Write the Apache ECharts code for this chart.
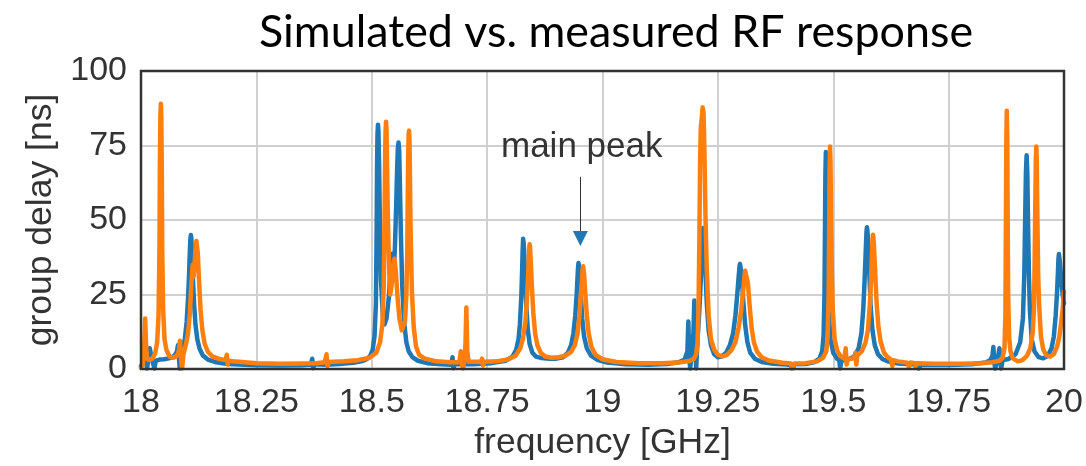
<!DOCTYPE html>
<html>
<head>
<meta charset="utf-8">
<script src="https://cdn.jsdelivr.net/npm/echarts@6/dist/echarts.min.js"></script>
<style>
  html, body { margin: 0; padding: 0; background: #ffffff; }
  #chart { width: 1086px; height: 466px; }
</style>
</head>
<body>
<div id="chart"></div>
<script>
// ---- data ----
const chartTitle = 'Simulated vs. measured RF response';
const xName = 'frequency [GHz]';
const yName = 'group delay [ns]';
const xRange = [18, 20, 0.25];
const yRange = [0, 100, 25];

// simulated response [frequency GHz, group delay ns]
const simulated = [
  [18.000, 1.0], [18.006, 2.2], [18.011, 2.6], [18.013, 0.2], [18.016, 3.0], [18.019, 7.0], [18.022, 4.5],
  [18.026, 2.0], [18.029, 0.2], [18.032, 2.8], [18.040, 3.2], [18.050, 3.3], [18.060, 3.6], [18.068, 4.0],
  [18.074, 4.8], [18.078, 6.0], [18.080, 8.0], [18.082, 4.0], [18.084, 0.2], [18.086, 2.5], [18.090, 6.5],
  [18.095, 10], [18.099, 16], [18.102, 24], [18.104, 31], [18.106, 40], [18.107, 43.5], [18.108, 45],
  [18.109, 44], [18.110, 41], [18.112, 32], [18.115, 22], [18.118, 15], [18.122, 10], [18.127, 6.8],
  [18.134, 4.6], [18.145, 3.2], [18.160, 2.4], [18.180, 1.9], [18.200, 1.6], [18.250, 1.3], [18.300, 1.2],
  [18.350, 1.3], [18.368, 1.5], [18.371, 3.5], [18.373, 0.3], [18.376, 1.6], [18.400, 1.5], [18.430, 1.7],
  [18.460, 2.1], [18.480, 2.7], [18.490, 3.4], [18.497, 4.5], [18.502, 6.5], [18.506, 11], [18.509, 22],
  [18.5105, 45], [18.5115, 68], [18.5125, 79], [18.5135, 82], [18.5145, 80], [18.516, 68], [18.518, 44],
  [18.520, 30], [18.524, 18], [18.5275, 15], [18.532, 17], [18.537, 24], [18.541, 34], [18.5435, 38.7],
  [18.5455, 33], [18.547, 31.5], [18.550, 40], [18.553, 55], [18.555, 67], [18.5565, 74], [18.558, 76],
  [18.5595, 73], [18.561, 62], [18.563, 46], [18.566, 28], [18.570, 16], [18.575, 9], [18.580, 6],
  [18.588, 4], [18.600, 2.8], [18.620, 2.0], [18.650, 1.6], [18.672, 1.5], [18.675, 4.0], [18.677, 0.3],
  [18.680, 1.6], [18.720, 1.6], [18.760, 2.0], [18.790, 2.8], [18.805, 4.2], [18.813, 6.5], [18.818, 10],
  [18.821, 15], [18.824, 24], [18.826, 34], [18.827, 40], [18.828, 43.7], [18.829, 42.5], [18.830, 40],
  [18.832, 32], [18.835, 21], [18.838, 13.5], [18.842, 8.5], [18.848, 5.5], [18.856, 4.2], [18.868, 3.7],
  [18.885, 3.5], [18.900, 3.5], [18.915, 4.0], [18.925, 5.5], [18.932, 8], [18.937, 12], [18.941, 18],
  [18.944, 25], [18.946, 31], [18.947, 34], [18.948, 35.6], [18.949, 35], [18.950, 33], [18.953, 25],
  [18.956, 17], [18.960, 11], [18.966, 7], [18.975, 4.5], [18.990, 3.0], [19.010, 2.2], [19.050, 1.6],
  [19.100, 1.5], [19.140, 1.7], [19.165, 2.3], [19.178, 3.2], [19.184, 6], [19.186, 16], [19.188, 4],
  [19.190, 0.2], [19.193, 5], [19.197, 12], [19.199, 23], [19.201, 8], [19.203, 0.2], [19.206, 10],
  [19.210, 20], [19.213, 30], [19.216, 43], [19.217, 46], [19.218, 47.3], [19.219, 46.5], [19.220, 44],
  [19.223, 33], [19.226, 22], [19.230, 13], [19.235, 8], [19.242, 5], [19.250, 4], [19.258, 4.2],
  [19.268, 5.5], [19.276, 8], [19.283, 12], [19.288, 18], [19.292, 25], [19.295, 31], [19.297, 34.5],
  [19.298, 35.3], [19.299, 35], [19.301, 32], [19.305, 23], [19.309, 15], [19.314, 9], [19.320, 5.5],
  [19.330, 3.5], [19.345, 2.4], [19.370, 1.8], [19.400, 1.5], [19.408, 1.5], [19.410, 0.3], [19.413, 1.6],
  [19.440, 1.7], [19.460, 2.4], [19.470, 3.5], [19.476, 6], [19.479, 11], [19.481, 25], [19.482, 45],
  [19.483, 65], [19.484, 72.8], [19.485, 68], [19.486, 52], [19.488, 30], [19.490, 20], [19.494, 10],
  [19.500, 5.5], [19.508, 3.5], [19.513, 3], [19.515, 0.2], [19.518, 3], [19.530, 3.0], [19.545, 4.2],
  [19.555, 7], [19.561, 12], [19.565, 20], [19.568, 30], [19.571, 42], [19.572, 46], [19.573, 47.6],
  [19.574, 46.5], [19.575, 44], [19.578, 33], [19.581, 21], [19.585, 13], [19.590, 8], [19.597, 5],
  [19.607, 3.3], [19.620, 2.5], [19.640, 1.9], [19.680, 1.5], [19.685, 0.2], [19.690, 1.4], [19.750, 1.4],
  [19.800, 1.6], [19.830, 2.2], [19.840, 3.0], [19.845, 4.5], [19.847, 7.4], [19.849, 2], [19.851, 0.2],
  [19.855, 3], [19.858, 5], [19.860, 7], [19.862, 2], [19.864, 0.2], [19.867, 3.0], [19.880, 3.4],
  [19.895, 5], [19.905, 9], [19.911, 17], [19.914, 32], [19.916, 52], [19.9175, 66], [19.919, 71.7],
  [19.9205, 66], [19.922, 50], [19.924, 32], [19.926, 20], [19.930, 10], [19.936, 6], [19.945, 4],
  [19.955, 3.6], [19.965, 4.5], [19.973, 7], [19.978, 11], [19.982, 18], [19.985, 26], [19.987, 33],
  [19.988, 37], [19.989, 38.6], [19.990, 38], [19.991, 36], [19.994, 30], [19.997, 25], [20.000, 22]
];

// measured response [frequency GHz, group delay ns]
const measured = [
  [18.000, 0.5], [18.004, 1.5], [18.007, 8], [18.009, 17], [18.011, 8], [18.013, 3.5], [18.018, 3.0],
  [18.025, 3.5], [18.031, 5.5], [18.035, 9], [18.038, 18], [18.040, 40], [18.041, 70], [18.042, 85],
  [18.043, 89], [18.044, 85], [18.045, 68], [18.046, 40], [18.048, 20], [18.051, 10], [18.055, 6.5],
  [18.062, 4.2], [18.070, 3.8], [18.078, 4.5], [18.082, 6], [18.0845, 9.5], [18.087, 3], [18.089, 0.2],
  [18.092, 5], [18.097, 8], [18.102, 12], [18.106, 19], [18.109, 28], [18.112, 35], [18.114, 31],
  [18.116, 35], [18.119, 42], [18.120, 43], [18.121, 43], [18.123, 39], [18.126, 29], [18.129, 20],
  [18.133, 13], [18.138, 8.5], [18.145, 5.8], [18.155, 4.2], [18.170, 3.4], [18.183, 3.0], [18.186, 4.8],
  [18.188, 1.5], [18.190, 2.8], [18.200, 2.6], [18.250, 2.0], [18.300, 1.8], [18.350, 1.9], [18.380, 2.0],
  [18.398, 2.3], [18.402, 5], [18.404, 1.0], [18.407, 2.4], [18.440, 2.6], [18.470, 3.0], [18.495, 3.8],
  [18.510, 5.5], [18.518, 9], [18.523, 15], [18.526, 28], [18.528, 55], [18.529, 72], [18.530, 80],
  [18.531, 83], [18.532, 80], [18.533, 70], [18.535, 50], [18.538, 32], [18.540, 25], [18.543, 28],
  [18.546, 34], [18.549, 37], [18.552, 33], [18.556, 24], [18.560, 17], [18.565, 13], [18.569, 12.4],
  [18.572, 16], [18.575, 25], [18.577, 40], [18.578, 58], [18.579, 72], [18.580, 79], [18.581, 80],
  [18.582, 75], [18.583, 62], [18.584, 48], [18.587, 26], [18.591, 14], [18.596, 7.5], [18.603, 4.7],
  [18.615, 3.5], [18.640, 2.6], [18.670, 2.3], [18.690, 2.3], [18.693, 6], [18.695, 2], [18.698, 0.2],
  [18.701, 3], [18.703, 8], [18.705, 20.7], [18.707, 6], [18.710, 2.5], [18.730, 2.5], [18.737, 2.5],
  [18.739, 3.5], [18.741, 1.2], [18.744, 2.5], [18.770, 2.6], [18.795, 3.2], [18.812, 4.5], [18.822, 7],
  [18.828, 10.5], [18.833, 16], [18.836, 23], [18.839, 32], [18.841, 40], [18.842, 41.9], [18.843, 41],
  [18.844, 38], [18.847, 28], [18.850, 19], [18.854, 12], [18.859, 8], [18.866, 5.5], [18.876, 4.2],
  [18.890, 3.8], [18.905, 4.0], [18.920, 4.5], [18.932, 5.8], [18.940, 8], [18.946, 12], [18.950, 18],
  [18.953, 25], [18.956, 31], [18.957, 33.5], [18.958, 34.5], [18.959, 34], [18.960, 32], [18.963, 25],
  [18.966, 18], [18.970, 12], [18.976, 7.5], [18.985, 4.8], [19.000, 3.3], [19.030, 2.4], [19.080, 2.0],
  [19.130, 2.0], [19.170, 2.3], [19.190, 2.8], [19.198, 3.5], [19.203, 5], [19.206, 9], [19.208, 20],
  [19.210, 45], [19.2115, 70], [19.213, 81], [19.215, 84], [19.217, 87.8], [19.219, 86], [19.221, 72],
  [19.223, 52], [19.226, 33], [19.230, 18], [19.235, 10], [19.242, 6.5], [19.250, 4.8], [19.260, 4.3],
  [19.270, 4.8], [19.280, 6.5], [19.288, 9], [19.295, 14], [19.300, 19], [19.304, 25], [19.307, 30],
  [19.309, 33], [19.310, 33.3], [19.312, 33], [19.315, 29], [19.319, 21], [19.323, 14], [19.328, 9],
  [19.335, 5.8], [19.345, 4], [19.360, 2.9], [19.390, 2.1], [19.408, 1.9], [19.410, 0.3], [19.412, 1.0],
  [19.414, 0.3], [19.416, 1.9], [19.440, 2.0], [19.465, 2.6], [19.478, 3.8], [19.485, 6], [19.488, 11],
  [19.490, 25], [19.491, 45], [19.492, 66], [19.493, 74.7], [19.494, 70], [19.495, 55], [19.497, 32],
  [19.499, 20], [19.503, 10], [19.509, 6], [19.516, 4.3], [19.524, 3.5], [19.527, 7], [19.529, 1.5],
  [19.531, 3.5], [19.540, 3.5], [19.546, 4], [19.548, 5.5], [19.550, 1.5], [19.552, 4.5], [19.562, 6],
  [19.570, 9], [19.575, 13], [19.579, 21], [19.582, 30], [19.584, 39], [19.585, 43], [19.586, 45.1],
  [19.587, 44], [19.588, 42], [19.591, 32], [19.594, 22], [19.598, 14], [19.603, 9], [19.610, 5.5],
  [19.618, 4.0], [19.625, 3.2], [19.628, 1.0], [19.630, 3.0], [19.640, 2.6], [19.660, 2.1], [19.664, 0.8],
  [19.667, 2.2], [19.676, 2.0], [19.678, 0.8], [19.680, 2.0], [19.720, 1.8], [19.780, 1.8], [19.820, 2.0],
  [19.845, 2.3], [19.860, 2.8], [19.867, 3.8], [19.871, 7], [19.873, 18], [19.874, 45], [19.875, 76],
  [19.876, 86.7], [19.877, 78], [19.878, 50], [19.879, 25], [19.881, 11], [19.884, 6], [19.889, 3.6],
  [19.900, 2.6], [19.910, 3.0], [19.920, 4.5], [19.927, 7], [19.932, 12], [19.935, 20], [19.9365, 38],
  [19.938, 58], [19.939, 70], [19.940, 74.7], [19.941, 70], [19.942, 55], [19.944, 32], [19.946, 22],
  [19.950, 11], [19.955, 6.5], [19.962, 4.6], [19.970, 4.2], [19.978, 5], [19.985, 7.5], [19.990, 11],
  [19.994, 16], [19.997, 20], [20.000, 26]
];

// annotation: text position, arrow line start/end, arrow head
const annotationText = 'main peak';
const annotationTextAt = [18.955, 74.4];
const arrowLine = [[18.952, 64.5], [18.952, 45.5]];
const arrowHeadAt = [18.952, 43.8];

// ---- chart ----
const FONT = "'Liberation Sans', Arial, Helvetica, sans-serif";
const TXT = '#333333';
const chart = echarts.init(document.getElementById('chart'), null, { renderer: 'canvas' });
chart.setOption({
  animation: false,
  backgroundColor: '#ffffff',
  title: {
    text: chartTitle,
    left: 611,
    top: 5,
    textAlign: 'center',
    textStyle: { fontFamily: 'Lato', fontSize: 44.8, fontWeight: 'normal', color: '#000000' }
  },
  grid: {
    left: 141, right: 22, top: 71, bottom: 90, z: 10,
    show: true, borderColor: '#333333', borderWidth: 2.5, backgroundColor: 'transparent'
  },
  xAxis: {
    type: 'value',
    min: xRange[0], max: xRange[1], interval: xRange[2],
    name: xName, nameLocation: 'middle', nameGap: 49,
    nameTextStyle: { fontFamily: FONT, fontSize: 35.5, color: TXT },
    axisLine: { show: false },
    axisTick: { show: false },
    axisLabel: { fontFamily: FONT, fontSize: 34, color: TXT, margin: 17 },
    splitLine: { show: true, lineStyle: { color: '#d0d0d0', width: 2 } }
  },
  yAxis: {
    type: 'value',
    min: yRange[0], max: yRange[1], interval: yRange[2],
    name: yName, nameLocation: 'middle', nameGap: 82, nameRotate: 90,
    nameTextStyle: { fontFamily: FONT, fontSize: 35.5, color: TXT },
    axisLine: { show: false },
    axisTick: { show: false },
    axisLabel: { fontFamily: FONT, fontSize: 34, color: TXT, margin: 14 },
    splitLine: { show: true, lineStyle: { color: '#d0d0d0', width: 2 } }
  },
  series: [
    {
      name: 'simulated', type: 'line', data: simulated, showSymbol: false, symbol: 'none',
      lineStyle: { color: '#1f77b4', width: 4.5, join: 'round', cap: 'round' }, z: 2,
      markLine: {
        silent: true, symbol: ['none', 'none'], animation: false,
        lineStyle: { color: '#333333', width: 1, type: 'solid' },
        label: { show: false },
        data: [[{ coord: arrowLine[0] }, { coord: arrowLine[1] }]]
      },
      markPoint: {
        silent: true, animation: false,
        data: [
          { coord: arrowHeadAt, symbol: 'triangle', symbolRotate: 180, symbolSize: [15, 15],
            itemStyle: { color: '#1f77b4' }, label: { show: false } },
          { coord: annotationTextAt, symbol: 'circle', symbolSize: 0,
            label: { show: true, position: 'inside', formatter: annotationText,
                     fontFamily: FONT, fontSize: 35, color: TXT } }
        ]
      }
    },
    {
      name: 'measured', type: 'line', data: measured, showSymbol: false, symbol: 'none',
      lineStyle: { color: '#ff7f0e', width: 4.5, join: 'round', cap: 'round' }, z: 3
    }
  ]
});
</script>
</body>
</html>
